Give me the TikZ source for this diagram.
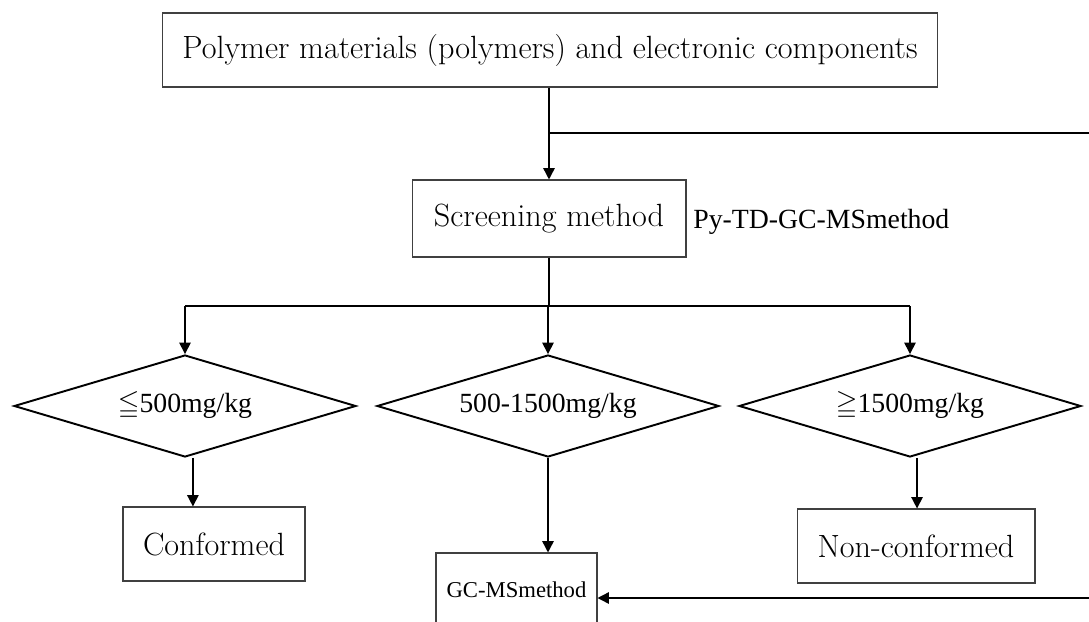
\documentclass[tikz,border=0pt]{standalone}
\usepackage{amssymb}
\usepackage{fontspec}
\newfontfamily\tmsfamily{Liberation Serif}
\usetikzlibrary{
    arrows.meta,
    shapes.geometric,
    calc
}
\tikzset{
    % Fonts
    century text/.style={font=\fontsize{18.3}{21}\selectfont},
    times text/.style={font=\tmsfamily\fontsize{15.8}{18}\selectfont},
    small times text/.style={font=\tmsfamily\fontsize{12.9}{15}\selectfont},
    %
    % Boxes and decisions
    step box/.style={draw=black!75,line width=.6pt,inner sep=0pt,minimum height=1.48cm,century text},
    decision/.style={diamond,draw=black,line width=1.1pt,inner sep=0pt,aspect=3.35,
        minimum width=6.84cm,minimum height=2.04cm,times text},
    %
    % Arrows
    arrow tip/.tip={Triangle[length=6.5pt,width=6.5pt]},
    conn/.style={black,line width=.85pt},
    arr/.style={conn,-{arrow tip}}
}

\begin{document}
\begin{tikzpicture}[x=0.02cm,y=-0.02cm]
        \useasboundingbox (0,0) rectangle (1089,622);
        % boxes
        \node[step box,minimum width=15.52cm] (top) at (550,50) {Polymer materials (polymers) and electronic components};
        \node[step box,minimum width=5.48cm,minimum height=1.54cm] (screen) at (549,218.5) {Screening method};
        \node[times text,anchor=west,inner sep=0pt] (pytd) at (693,222) {Py-TD-GC-MSmethod};
        \node[decision] (dleft) at (185,406) {$\leqq$500mg/kg};
        \node[decision] (dmid) at (548,406) {500-1500mg/kg};
        \node[decision] (dright) at (910,406) {$\geqq$1500mg/kg};
        \node[step box,minimum width=3.64cm] (conf) at (214,544) {Conformed};
        \node[step box,minimum width=4.76cm] (nonconf) at (916,546) {Non-conformed};
        \node[step box,minimum width=3.22cm,small times text] (gcms) at (516.5,590) {GC-MSmethod};
        % connectors
        \coordinate (loopin) at (549,133);
        \coordinate (loopend) at (1089,133);
        \coordinate (split) at (549,306);
        \coordinate (loopout) at (1089,598);
        \draw[arr] (top.south -| screen.north) -- (screen.north);
        \draw[conn] (loopin) -- (loopend);
        \draw[conn] (screen.south) -- (split);
        \draw[conn] (dleft.north |- split) -- (dright.north |- split);
        \foreach \d in {dleft,dmid,dright}{
            \draw[arr] (\d.north |- split) -- (\d.north);
        }
        \draw[arr] ([xshift=4.5pt]dleft.south) -- ([xshift=4.5pt]dleft.south |- conf.north);
        \draw[arr] (dmid.south) -- (dmid.south |- gcms.north);
        \draw[arr] ([xshift=4pt]dright.south) -- ([xshift=4pt]dright.south |- nonconf.north);
        \draw[arr] (loopout) -- (loopout -| gcms.east);
    \end{tikzpicture}
\end{document}
